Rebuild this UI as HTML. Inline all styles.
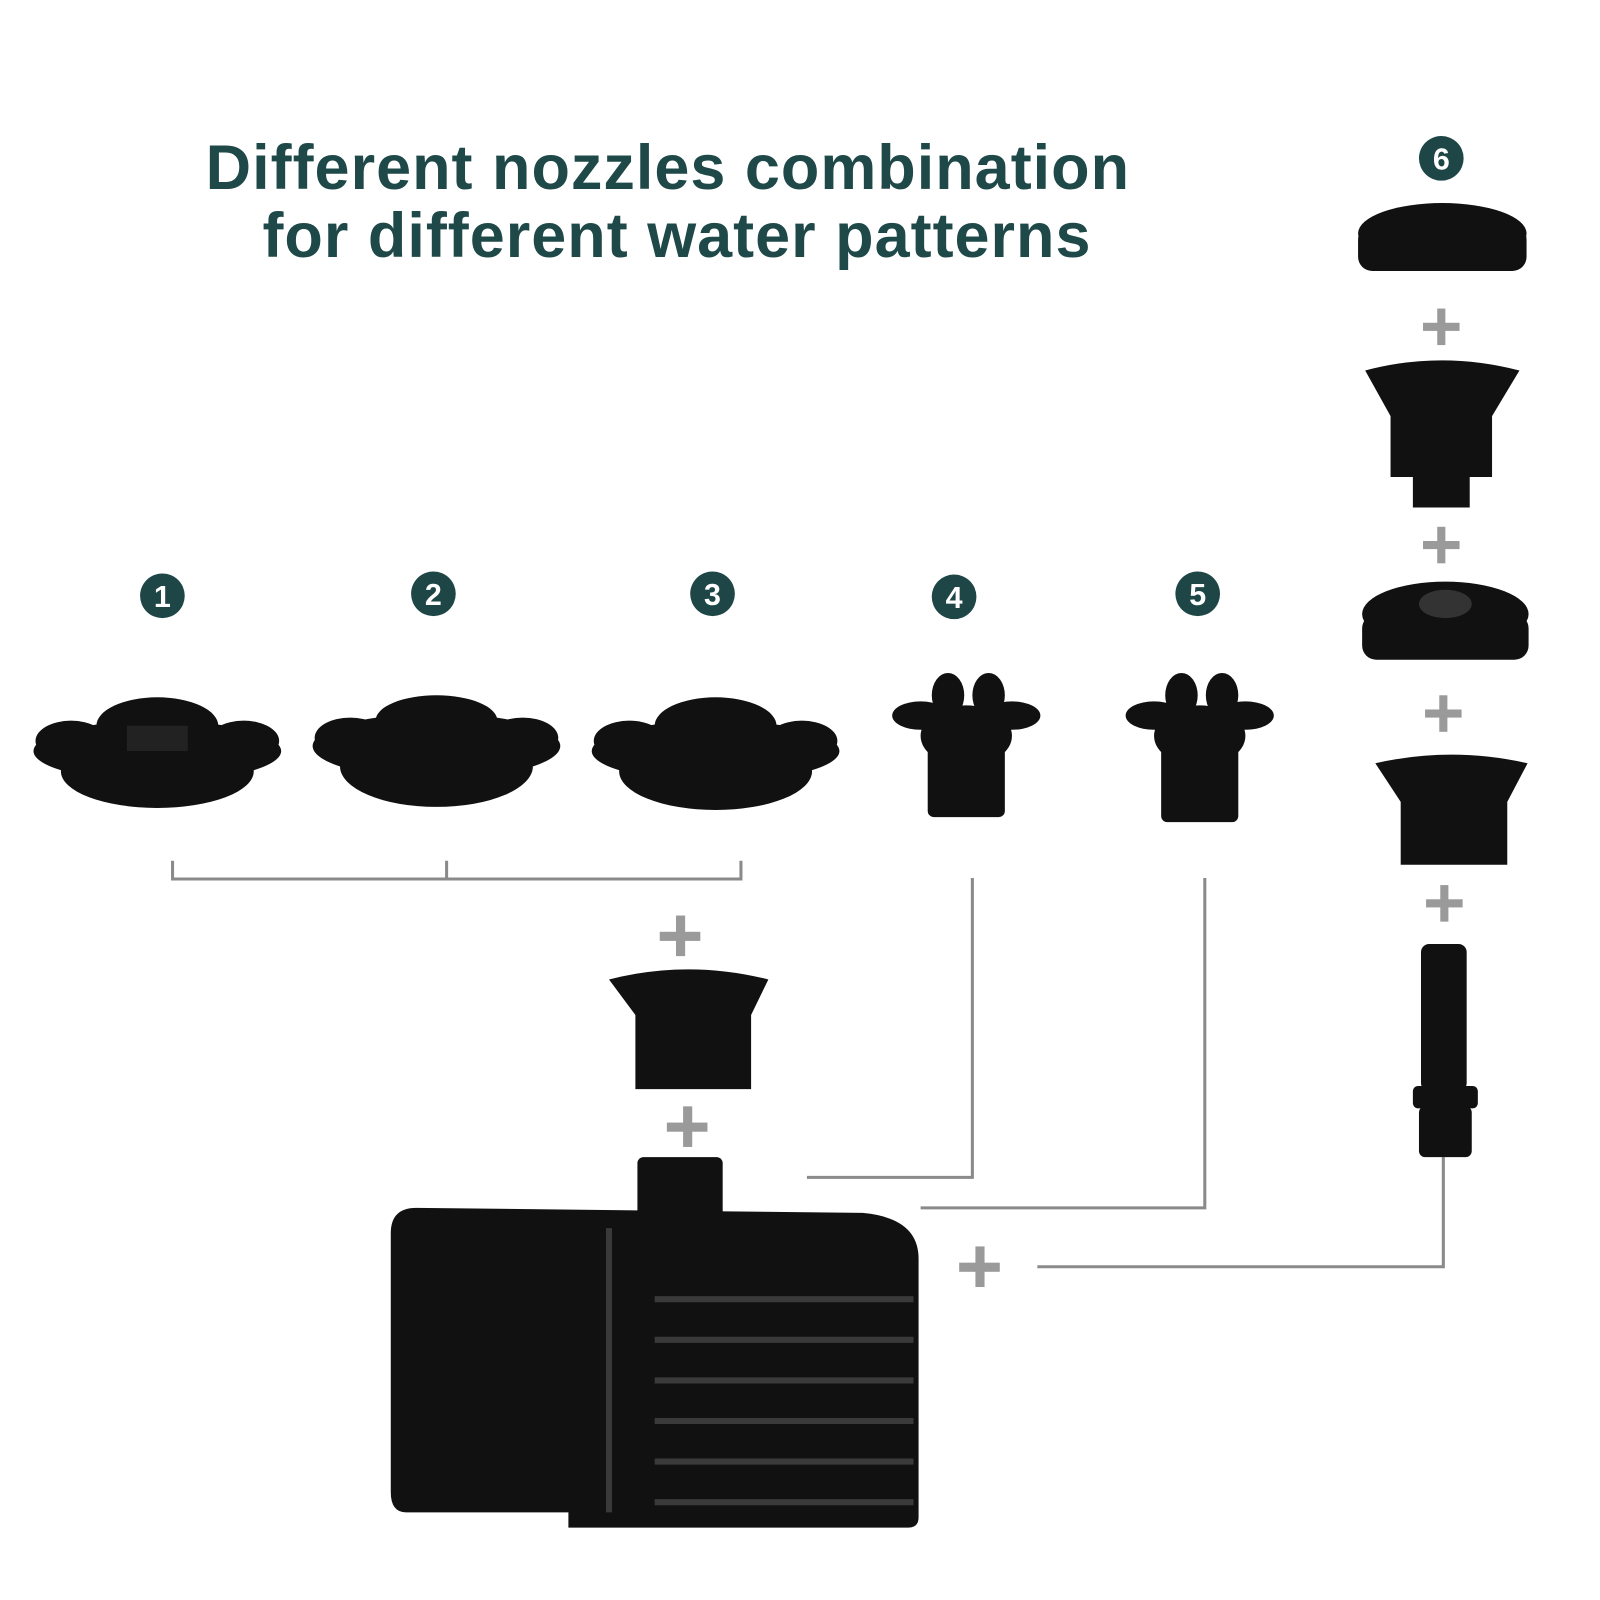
<!DOCTYPE html>
<html><head><meta charset="utf-8"><style>
html,body{margin:0;padding:0;background:#fff;}
svg{display:block;}
.t{font-family:"Liberation Sans",sans-serif;font-weight:bold;fill:#1f4848;letter-spacing:1px;}
.n{font-family:"Liberation Sans",sans-serif;font-weight:bold;fill:#fff;font-size:30px;text-anchor:middle;}
</style></head><body>
<svg width="1600" height="1600" viewBox="0 0 1600 1600" xmlns="http://www.w3.org/2000/svg">
<rect width="1600" height="1600" fill="#fff"/>
<g transform="scale(1.015)">
<text class="t" x="658" y="186" font-size="62" text-anchor="middle">Different nozzles combination</text>
<text class="t" x="667" y="253" font-size="62" text-anchor="middle">for different water patterns</text>

<g fill="#1e4646">
<circle cx="160" cy="587" r="22"/><circle cx="427" cy="585" r="22"/><circle cx="702" cy="585" r="22"/>
<circle cx="940" cy="588" r="22"/><circle cx="1180" cy="585" r="22"/><circle cx="1420" cy="156" r="22"/>
</g>
<text class="n" x="160" y="598">1</text><text class="n" x="427" y="596">2</text><text class="n" x="702" y="596">3</text>
<text class="n" x="940" y="599">4</text><text class="n" x="1180" y="596">5</text><text class="n" x="1420" y="167">6</text>

<g stroke="#8a8a8a" stroke-width="3" fill="none">
<path d="M170 848V866H730V848M440 848V866"/>
<path d="M958 865V1160H795"/>
<path d="M1187 865V1190H907"/>
<path d="M1422 1140V1248H1022"/>
</g>
<g fill="#9a9a9a">
<g transform="translate(670,922)"><rect x="-20" y="-4" width="40" height="9"/><rect x="-4" y="-20" width="9" height="40"/></g>
<g transform="translate(677,1110)"><rect x="-20" y="-4" width="40" height="9"/><rect x="-4" y="-20" width="9" height="40"/></g>
<g transform="translate(965,1248)"><rect x="-20" y="-4" width="40" height="9"/><rect x="-4" y="-20" width="9" height="40"/></g>
<g transform="translate(1420,322)"><rect x="-18" y="-4" width="36" height="8"/><rect x="-4" y="-18" width="8" height="36"/></g>
<g transform="translate(1420,537)"><rect x="-18" y="-4" width="36" height="8"/><rect x="-4" y="-18" width="8" height="36"/></g>
<g transform="translate(1422,703)"><rect x="-18" y="-4" width="36" height="8"/><rect x="-4" y="-18" width="8" height="36"/></g>
<g transform="translate(1423,890)"><rect x="-18" y="-4" width="36" height="8"/><rect x="-4" y="-18" width="8" height="36"/></g>
</g>

<g fill="#111">
<g transform="translate(155,740)">
<ellipse cx="0" cy="0" rx="122" ry="30"/><ellipse cx="0" cy="20" rx="95" ry="36"/>
<ellipse cx="0" cy="-25" rx="60" ry="28"/><ellipse cx="-85" cy="-10" rx="35" ry="20"/><ellipse cx="85" cy="-10" rx="35" ry="20"/>
<rect x="-30" y="-25" width="60" height="25" fill="#222"/>
</g>
<g transform="translate(430,735)">
<ellipse cx="0" cy="0" rx="122" ry="32"/><ellipse cx="0" cy="20" rx="95" ry="40"/>
<ellipse cx="0" cy="-25" rx="60" ry="25"/><ellipse cx="-85" cy="-8" rx="35" ry="20"/><ellipse cx="85" cy="-8" rx="35" ry="20"/>
</g>
<g transform="translate(705,740)">
<ellipse cx="0" cy="0" rx="122" ry="30"/><ellipse cx="0" cy="20" rx="95" ry="38"/>
<ellipse cx="0" cy="-25" rx="60" ry="28"/><ellipse cx="-85" cy="-10" rx="35" ry="20"/><ellipse cx="85" cy="-10" rx="35" ry="20"/>
</g>
<g transform="translate(952,730)">
<rect x="-38" y="0" width="76" height="75" rx="6"/>
<ellipse cx="0" cy="-5" rx="45" ry="30"/><ellipse cx="-45" cy="-25" rx="28" ry="14"/><ellipse cx="45" cy="-25" rx="28" ry="14"/>
<ellipse cx="-18" cy="-45" rx="16" ry="22"/><ellipse cx="22" cy="-45" rx="16" ry="22"/>
</g>
<g transform="translate(1182,730)">
<rect x="-38" y="0" width="76" height="80" rx="6"/>
<ellipse cx="0" cy="-5" rx="45" ry="30"/><ellipse cx="-45" cy="-25" rx="28" ry="14"/><ellipse cx="45" cy="-25" rx="28" ry="14"/>
<ellipse cx="-18" cy="-45" rx="16" ry="22"/><ellipse cx="22" cy="-45" rx="16" ry="22"/>
</g>
<rect x="1338" y="222" width="166" height="45" rx="14"/><ellipse cx="1421" cy="230" rx="83" ry="30"/>
<path d="M1345 365 Q1420 345 1497 365 L1470 410 V470 H1448 V500 H1392 V470 H1370 V410 Z"/>
<rect x="1342" y="605" width="164" height="45" rx="14"/><ellipse cx="1424" cy="605" rx="82" ry="32"/>
<ellipse cx="1424" cy="595" rx="26" ry="14" fill="#333"/>
<path d="M1355 752 Q1430 735 1505 752 L1485 790 V852 H1380 V790 Z"/>
<rect x="1400" y="930" width="45" height="145" rx="8"/><rect x="1392" y="1070" width="64" height="22" rx="5"/><rect x="1398" y="1090" width="52" height="50" rx="6"/>
<path d="M600 965 Q678 945 757 965 L740 1000 V1073 H626 V1000 Z"/>
<rect x="628" y="1140" width="84" height="70" rx="6"/>
<path d="M385 1215 Q385 1190 410 1190 L850 1195 Q905 1200 905 1240 V1495 Q905 1505 895 1505 H640 L600 1490 H400 Q385 1490 385 1470 Z"/>
<path d="M560 1490 Q600 1470 640 1490 L640 1505 H560 Z"/>
</g>
<g stroke="#3a3a3a" stroke-width="6" fill="none">
<path d="M600 1210 V1490"/>
<path d="M645 1280H900M645 1320H900M645 1360H900M645 1400H900M645 1440H900M645 1480H900"/>
</g>
</g>
</svg>
</body></html>
